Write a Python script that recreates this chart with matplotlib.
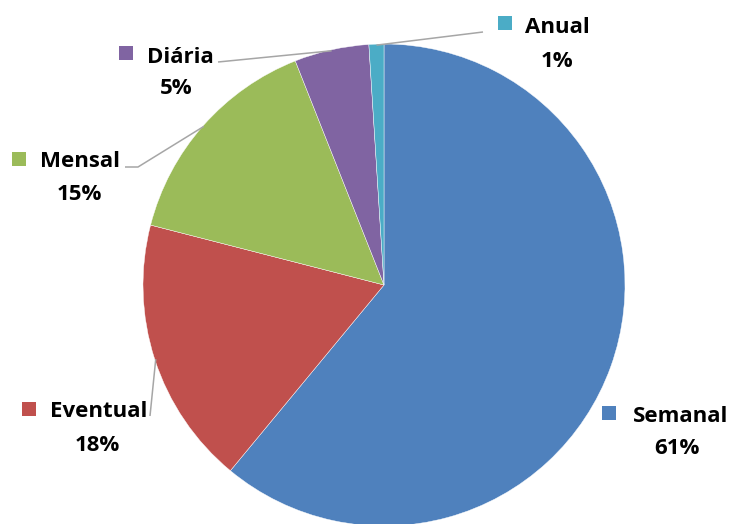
import numpy as np
import matplotlib
matplotlib.use("Agg")
import matplotlib.pyplot as plt
from matplotlib.patches import Rectangle

categories = ["Semanal", "Eventual", "Mensal", "Diária", "Anual"]
values = [61, 18, 15, 5, 1]
pct_labels = ["61%", "18%", "15%", "5%", "1%"]
colors = ["#4F81BD", "#C0504D", "#9BBB59", "#8064A2", "#4BACC6"]

W, H = 729, 524
fig = plt.figure(figsize=(W / 100, H / 100), dpi=100)
ax = fig.add_axes([0, 0, 1, 1])

def Y(y):
    return H - y

cx, cy, R = 384, Y(285), 241
wedges, _ = ax.pie(values, colors=colors, startangle=90, counterclock=False,
                   center=(cx, cy), radius=R,
                   wedgeprops=dict(edgecolor="white", linewidth=0.3))
ax.set_xlim(0, W)
ax.set_ylim(0, H)
ax.set_aspect("equal", adjustable="box")
ax.axis("off")

def edge_point(w, r=R):
    a = np.deg2rad((w.theta1 + w.theta2) / 2)
    return cx + r * np.cos(a), cy + r * np.sin(a)

line_kw = dict(color="#A6A6A6", lw=1.1, solid_capstyle="butt")
# leader lines: (label end points in image pixels)
leaders = {
    "Anual": [(483, 32)],
    "Diária": [(218, 62)],
    "Mensal": [(138, 167), (125, 167)],
    "Eventual": [(150, 416)],
}
for name, pts in leaders.items():
    w = wedges[categories.index(name)]
    x0, y0 = edge_point(w, R - 1)
    xs = [x0] + [p[0] for p in pts]
    ys = [y0] + [Y(p[1]) for p in pts]
    ax.plot(xs, ys, **line_kw)

# label layout: square center, name left x, name center y, pct center x, pct center y
layout = {
    "Semanal": (609, 413, 633, 414, 677, 446),
    "Eventual": (29, 409, 50, 409, 97, 443),
    "Mensal": (19, 159, 40, 159, 79, 192),
    "Diária": (126, 53, 147, 55, 176, 86),
    "Anual": (505, 23, 525, 25, 557, 59),
}
font = dict(family=["Open Sans", "DejaVu Sans"], fontweight="bold", fontsize=16, color="black")
sq = 14
for i, name in enumerate(categories):
    sx, sy, nx, ny, px, py = layout[name]
    ax.add_patch(Rectangle((sx - sq / 2, Y(sy) - sq / 2), sq, sq,
                           facecolor=colors[i], edgecolor="none"))
    ax.text(nx, Y(ny), name, ha="left", va="center_baseline", **font)
    ax.text(px, Y(py), pct_labels[i], ha="center", va="center_baseline", **font)

fig.savefig("out.png", dpi=100)
